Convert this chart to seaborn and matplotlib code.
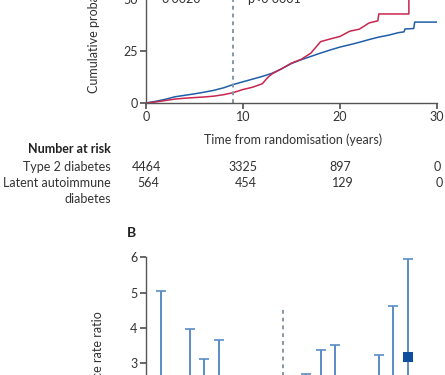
import matplotlib
matplotlib.use("Agg")
import matplotlib.pyplot as plt
import matplotlib.transforms as mtransforms
import seaborn as sns
import pandas as pd

# ================= data =================
# Panel A: cumulative probability (%) vs years since randomisation
t2d_years = [0, 1, 2, 3, 4, 5, 6, 7, 8, 9, 10, 11, 12, 13, 14, 15, 16, 17, 18,
             19, 20, 21, 22, 23, 24, 25, 26, 26.6, 26.7, 27.6, 27.7, 30]
t2d_cum = [0, 0.8, 1.8, 3.0, 3.7, 4.4, 5.2, 6.1, 7.3, 8.9, 10.2, 11.5, 12.8, 14.3,
           16.5, 19.0, 20.8, 22.4, 24.0, 25.5, 26.9, 28.0, 29.2, 30.5, 31.7, 32.6,
           33.8, 34.2, 35.6, 35.8, 38.9, 38.9]
lada_years = [0, 1, 2, 3, 4, 5, 6, 7, 8, 9, 10, 11, 12, 12.6, 13, 14, 15, 16, 17,
              18, 19, 20, 21, 22, 23, 23.9, 24, 27.1, 27.1]
lada_cum = [0, 0.5, 1.2, 1.9, 2.3, 2.6, 2.9, 3.3, 4.0, 5.0, 6.5, 7.6, 9.3, 12.5,
            14.0, 16.5, 19.2, 21.0, 24.0, 29.5, 30.8, 32.0, 34.5, 35.5, 38.5, 39.5,
            42.8, 42.8, 60]
split_year = 9
p_left = "0·0020"
p_right = "p<0·0001"

risk_years = [0, 10, 20, 30]
risk_t2d = [4464, 3325, 897, 0]
risk_lada = [564, 454, 129, 0]

# Panel B: incidence rate ratios (only the top of the panel is visible)
ratio_pos = [1, 3, 4, 5, 11, 12, 13, 16, 17, 18]
ratio_upper = [5.05, 3.98, 3.11, 3.66, 2.69, 3.37, 3.52, 3.23, 4.62, 5.95]
ratio_est = [2.0, 1.8, 1.6, 1.9, 1.5, 1.7, 1.8, 1.7, 2.2, 3.18]
ratio_lower = [0.8, 0.8, 0.8, 1.0, 0.8, 0.9, 0.9, 0.9, 1.0, 1.7]
ratio_split = 9.45
ratio_split_top = 4.6

# ================= style =================
sns.set_theme(style="ticks", rc={
    "axes.edgecolor": "#555555",
    "xtick.color": "#555555",
    "ytick.color": "#555555",
    "xtick.labelcolor": "#333333",
    "ytick.labelcolor": "#333333",
    "xtick.major.size": 4,
    "ytick.major.size": 4,
    "axes.linewidth": 1.0,
})
plt.rcParams["font.family"] = ["Lato", "DejaVu Sans"]
plt.rcParams["font.size"] = 8

W, H = 445, 375
fig = plt.figure(figsize=(W / 100, H / 100), dpi=100)


def fx(px):
    return px / W


def fy(py):
    return 1 - py / H


BLUE = "#1f5ea8"
RED = "#c8264f"

# ================= panel A =================
axA = fig.add_axes([fx(146), fy(103), fx(437) - fx(146), fy(-1) - fy(103)])
dfA = pd.concat([
    pd.DataFrame({"year": t2d_years, "cum": t2d_cum, "grp": "t2d"}),
    pd.DataFrame({"year": lada_years, "cum": lada_cum, "grp": "lada"}),
])
sns.lineplot(data=dfA, x="year", y="cum", hue="grp", palette={"t2d": BLUE, "lada": RED},
             estimator=None, sort=False, lw=1.1, legend=False, ax=axA)
axA.axvline(split_year, color="#8797a6", lw=1.4, ls=(0, (2, 2)))
axA.set_xlim(0, 30)
axA.set_ylim(0, 50)
axA.set_xticks([0, 10, 20, 30])
axA.set_yticks([0, 25, 50])
axA.tick_params(labelsize=9, pad=2)
sns.despine(ax=axA)
axA.set_xlabel("")
axA.set_ylabel("")
axA.text(1.6, 48.3, p_left, fontsize=9, color="#333333", va="baseline")
axA.text(10.4, 48.3, p_right, fontsize=9, color="#333333", va="baseline")

fig.text(fx(293), fy(140), "Time from randomisation (years)", fontsize=9,
         color="#333333", ha="center", va="center")
fig.text(fx(94), fy(93), "Cumulative probability (%)", fontsize=9, color="#333333",
         rotation=90, ha="center", va="bottom")

# number at risk table
fig.text(fx(111), fy(149), "Number at risk", fontsize=9, fontweight="bold",
         color="#222222", ha="right", va="center")
fig.text(fx(111), fy(167), "Type 2 diabetes", fontsize=9, color="#333333",
         ha="right", va="center")
fig.text(fx(111), fy(183), "Latent autoimmune", fontsize=9, color="#333333",
         ha="right", va="center")
fig.text(fx(111), fy(199), "diabetes", fontsize=9, color="#333333",
         ha="right", va="center")
trA = mtransforms.blended_transform_factory(axA.transData, fig.transFigure)
for yr, n1, n2 in zip(risk_years, risk_t2d, risk_lada):
    axA.text(yr, fy(167), f"{n1}", transform=trA, fontsize=9, color="#333333",
             ha="center", va="center")
    axA.text(yr + 0.25, fy(183), f"{n2}", transform=trA, fontsize=9, color="#333333",
             ha="center", va="center")

# ================= panel B =================
axB = fig.add_axes([fx(146), fy(257.3 + 6 * 35.3), fx(437) - fx(146), 6 * 35.3 / H])
eb = axB.errorbar(ratio_pos,
                  ratio_est,
                  yerr=[[e - l for e, l in zip(ratio_est, ratio_lower)],
                        [u - e for u, e in zip(ratio_upper, ratio_est)]],
                  fmt="none", ecolor="#5a8cc6", elinewidth=1.4, capsize=3.5, capthick=1.2)
for cap in eb[1]:
    cap.set_color("#24579a")
sns.scatterplot(x=ratio_pos, y=ratio_est, marker="s", s=55, color="#0d4f9e",
                edgecolor="none", ax=axB, zorder=3)
axB.vlines(ratio_split, 0, ratio_split_top, color="#8797a6", lw=1.4, ls=(0, (2, 2)))
axB.set_xlim(0, 20)
axB.set_ylim(0, 6)
axB.set_yticks([1, 2, 3, 4, 5, 6])
axB.set_xticks([])
axB.tick_params(labelsize=9, pad=2)
sns.despine(ax=axB, bottom=True)
fig.text(fx(132), fy(233), "B", fontsize=10, fontweight="bold", color="#222222",
         ha="center", va="center")
fig.text(fx(98), fy(311), "Incidence rate ratio", fontsize=9, color="#333333",
         rotation=90, ha="center", va="top")

fig.savefig("out.png", dpi=100)
